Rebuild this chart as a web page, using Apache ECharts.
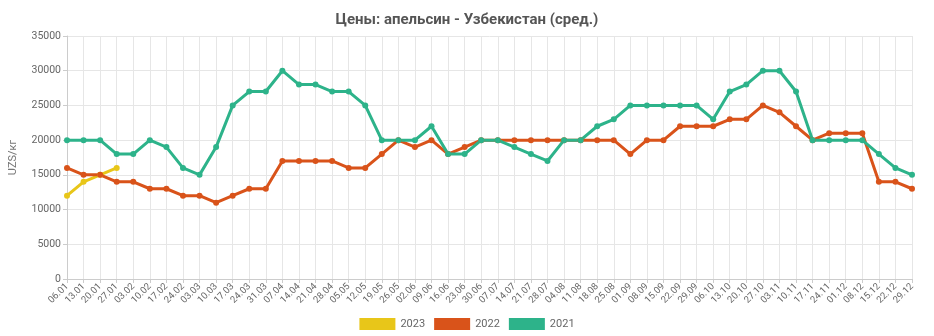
<!DOCTYPE html>
<html>
<head>
<meta charset="utf-8">
<script src="https://cdn.jsdelivr.net/npm/echarts@6/dist/echarts.min.js"></script>
<style>
  html, body { margin: 0; padding: 0; background: #fff; }
  #chart { width: 934px; height: 336px; }
</style>
</head>
<body>
<div id="chart"></div>
<script>
// Weekly dates (day.month)
const weeks = ['06.01','13.01','20.01','27.01','03.02','10.02','17.02','24.02','03.03','10.03',
  '17.03','24.03','31.03','07.04','14.04','21.04','28.04','05.05','12.05','19.05','26.05',
  '02.06','09.06','16.06','23.06','30.06','07.07','14.07','21.07','28.07','04.08','11.08',
  '18.08','25.08','01.09','08.09','15.09','22.09','29.09','06.10','13.10','20.10','27.10',
  '03.11','10.11','17.11','24.11','01.12','08.12','15.12','22.12','29.12'];

// Average orange price, UZS per kg
const prices2023 = [12000, 14000, 15000, 16000];
const prices2022 = [16000,15000,15000,14000,14000,13000,13000,12000,12000,11000,
  12000,13000,13000,17000,17000,17000,17000,16000,16000,18000,20000,
  19000,20000,18000,19000,20000,20000,20000,20000,20000,20000,20000,
  20000,20000,18000,20000,20000,22000,22000,22000,23000,23000,25000,
  24000,22000,20000,21000,21000,21000,14000,14000,13000];
const prices2021 = [20000,20000,20000,18000,18000,20000,19000,16000,15000,19000,
  25000,27000,27000,30000,28000,28000,27000,27000,25000,20000,20000,
  20000,22000,18000,18000,20000,20000,19000,18000,17000,20000,20000,
  22000,23000,25000,25000,25000,25000,25000,23000,27000,28000,30000,
  30000,27000,20000,20000,20000,20000,18000,16000,15000];

const yTicks = { min: 0, max: 35000, step: 5000 };

const chart = echarts.init(document.getElementById('chart'));
const font = 'Roboto, "Noto Sans", sans-serif';

function lineSeries(name, data, color) {
  return {
    name: name,
    type: 'line',
    data: data,
    symbol: 'circle',
    symbolSize: 6,
    showSymbol: true,
    lineStyle: { width: 3, color: color },
    itemStyle: { color: color },
    emphasis: { disabled: true },
    animation: false
  };
}

chart.setOption({
  backgroundColor: '#ffffff',
  textStyle: { fontFamily: font },
  title: {
    text: 'Цены: апельсин - Узбекистан (сред.)',
    left: 'center',
    top: 8,
    textStyle: { fontFamily: font, fontSize: 15, fontWeight: 'bold', color: '#555555' }
  },
  legend: {
    bottom: 1,
    left: 'center',
    itemWidth: 36,
    itemHeight: 12,
    itemGap: 9,
    icon: 'rect',
    textStyle: { fontFamily: font, fontSize: 11, color: '#666666' },
    data: ['2023', '2022', '2021']
  },
  grid: { left: 67, right: 22, top: 36, bottom: 57 },
  xAxis: {
    type: 'category',
    data: weeks,
    boundaryGap: false,
    axisLine: { lineStyle: { color: '#cccccc' } },
    axisTick: { show: true, length: 4, lineStyle: { color: '#cccccc' } },
    axisLabel: { interval: 0, rotate: 45, fontSize: 9.5, color: '#666666', margin: 6, fontFamily: font },
    splitLine: { show: true, lineStyle: { color: '#e6e6e6' } }
  },
  yAxis: {
    type: 'value',
    min: yTicks.min,
    max: yTicks.max,
    interval: yTicks.step,
    name: 'UZS/кг',
    nameLocation: 'middle',
    nameGap: 48,
    nameTextStyle: { color: '#777777', fontSize: 11, fontFamily: font },
    axisLine: { show: true, lineStyle: { color: '#cccccc' } },
    axisTick: { show: true, length: 4, lineStyle: { color: '#cccccc' } },
    axisLabel: { fontSize: 10.5, color: '#666666', margin: 6, fontFamily: font,
      formatter: function (v) { return String(v); } },
    splitLine: { show: true, lineStyle: { color: '#e6e6e6' } }
  },
  series: [
    lineSeries('2023', prices2023, '#e8c619'),
    lineSeries('2022', prices2022, '#d9531a'),
    lineSeries('2021', prices2021, '#2db38a')
  ]
});
</script>
</body>
</html>
